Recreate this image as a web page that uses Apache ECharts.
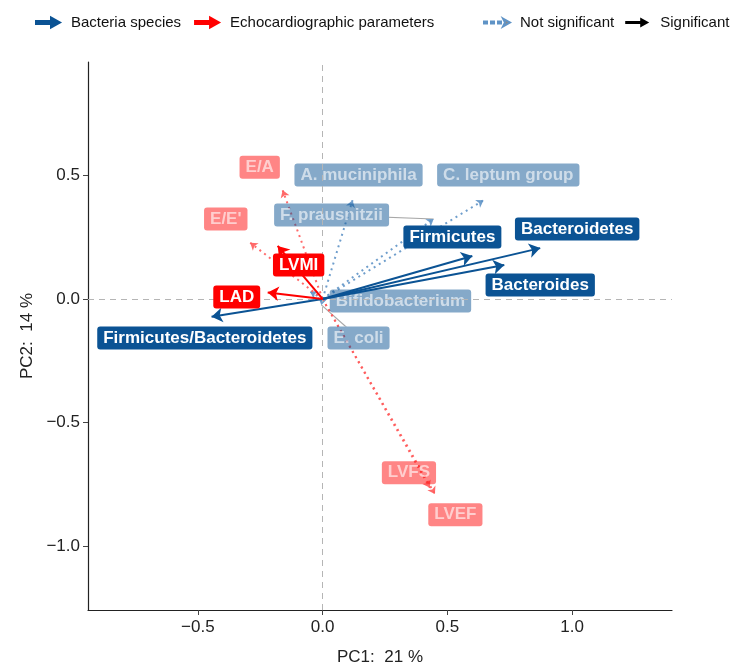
<!DOCTYPE html>
<html>
<head>
<meta charset="utf-8">
<script src="https://cdn.jsdelivr.net/npm/echarts@6/dist/echarts.min.js"></script>
<style>
  html, body { margin: 0; padding: 0; background: #fff; }
  #chart { width: 732px; height: 669px; }
</style>
</head>
<body>
<div id="chart"></div>
<script>
// PCA biplot loadings: PC1 / PC2 coordinates of each arrow tip,
// plus the coordinates where each text label is placed.

// Bacteria species – significant
const bactSigNames = ['Firmicutes', 'Bacteroidetes', 'Bacteroides', 'Firmicutes/Bacteroidetes'];
const bactSigPC1 = [0.600, 0.872, 0.728, -0.445];
const bactSigPC2 = [0.174, 0.206, 0.138, -0.072];
const bactSigLabelPC1 = [0.520, 1.020, 0.872, -0.472];
const bactSigLabelPC2 = [0.251, 0.283, 0.057, -0.158];

// Bacteria species – not significant
const bactNsNames = ['A. muciniphila', 'F. prausnitzii', 'C. leptum group', 'Bifidobacterium', 'E. coli'];
const bactNsPC1 = [0.120, 0.445, 0.645, -0.050, -0.005];
const bactNsPC2 = [0.400, 0.324, 0.400, 0.030, -0.024];
const bactNsLabelPC1 = [0.144, 0.036, 0.744, 0.312, 0.144];
const bactNsLabelPC2 = [0.502, 0.340, 0.502, -0.008, -0.158];

// Echocardiographic parameters – significant
const echoSigNames = ['LAD', 'LVMI'];
const echoSigPC1 = [-0.220, -0.180];
const echoSigPC2 = [0.026, 0.215];
const echoSigLabelPC1 = [-0.344, -0.096];
const echoSigLabelPC2 = [0.008, 0.138];

// Echocardiographic parameters – not significant
const echoNsNames = ['E/A', "E/E'", 'LVFS', 'LVEF'];
const echoNsPC1 = [-0.160, -0.290, 0.430, 0.450];
const echoNsPC2 = [0.440, 0.228, -0.765, -0.790];
const echoNsLabelPC1 = [-0.252, -0.388, 0.346, 0.532];
const echoNsLabelPC2 = [0.534, 0.324, -0.704, -0.874];

// Labels that are joined to their arrow tip by a leader segment
const leaderNames = ['F. prausnitzii', 'E. coli'];

// Axis ticks
const xTicks = [-0.5, 0.0, 0.5, 1.0];
const yTicks = [-1.0, -0.5, 0.0, 0.5];

const FONT = '"Liberation Sans", Arial, sans-serif';
const BLUE = '#0b5394';
const RED = '#ff0000';

function arrows(pc1, pc2) {
  return pc1.map((x, i) => ({ coords: [[0, 0], [x, pc2[i]]] }));
}
function labelPoints(names, lx, ly) {
  return names.map((n, i) => ({ name: n, value: [lx[i], ly[i]] }));
}
function fmt(v) {
  return (v < 0 ? '\u2212' : '') + Math.abs(v).toFixed(1);
}

// Leader segments: from label anchor to arrow tip
const allNames = bactNsNames.concat(bactSigNames, echoSigNames, echoNsNames);
const allPC1 = bactNsPC1.concat(bactSigPC1, echoSigPC1, echoNsPC1);
const allPC2 = bactNsPC2.concat(bactSigPC2, echoSigPC2, echoNsPC2);
const allLX = bactNsLabelPC1.concat(bactSigLabelPC1, echoSigLabelPC1, echoNsLabelPC1);
const allLY = bactNsLabelPC2.concat(bactSigLabelPC2, echoSigLabelPC2, echoNsLabelPC2);
const leaderIdx = leaderNames.map(n => allNames.indexOf(n));
const leaders = leaderIdx.map(i => ({ coords: [[allLX[i], allLY[i]], [allPC1[i], allPC2[i]]] }));

function labelSeries(names, lx, ly, bg, fg, z) {
  return {
    type: 'scatter',
    silent: true,
    z: z,
    symbolSize: 0,
    itemStyle: { opacity: 1 },
    data: labelPoints(names, lx, ly),
    label: {
      show: true,
      position: 'inside',
      formatter: '{b}',
      fontFamily: FONT,
      fontWeight: 'bold',
      fontSize: 17,
      lineHeight: 18,
      color: fg,
      backgroundColor: bg,
      borderRadius: 3,
      padding: [3, 6, 2, 6]
    },
    labelLayout: { hideOverlap: false }
  };
}

const chart = echarts.init(document.getElementById('chart'), null, { renderer: 'canvas' });

const arrowIcon = 'path://M0,3.5h15v-3.5l9,5l-9,5v-3.5h-15z';
const dottedIcon = 'path://M0,4h3v2h-3z M7,4h3v2h-3z M14,4h3v2h-3z M19,1l7,4l-7,4l2,-4z';

chart.setOption({
  animation: false,
  backgroundColor: '#fff',
  legend: [
    {
      left: 30, top: 10,
      itemWidth: 24, itemHeight: 10, itemGap: 13,
      selectedMode: false,
      textStyle: { fontFamily: FONT, fontSize: 15, color: '#111', padding: [0, 0, 0, 6] },
      data: [
        { name: 'Bacteria species', icon: arrowIcon, itemStyle: { color: BLUE } },
        { name: 'Echocardiographic parameters', icon: arrowIcon, itemStyle: { color: RED } }
      ]
    },
    {
      left: 478, top: 10, width: 260,
      itemWidth: 26, itemHeight: 10, itemGap: 11,
      selectedMode: false,
      textStyle: { fontFamily: FONT, fontSize: 15, color: '#111', padding: [0, 0, 0, 5] },
      data: [
        { name: 'Not significant', icon: dottedIcon, itemStyle: { color: '#8a8a8a' } },
        { name: 'Significant', icon: arrowIcon, itemStyle: { color: '#000' } }
      ]
    }
  ],
  grid: { left: 88, right: 60, top: 62, bottom: 59, containLabel: false, outerBoundsMode: 'none' },
  xAxis: {
    type: 'value',
    min: -0.94, max: 1.4,
    name: 'PC1:  21 %',
    nameLocation: 'middle',
    nameGap: 39,
    nameTextStyle: { fontFamily: FONT, fontSize: 17, color: '#222' },
    axisLine: { show: true, onZero: false, lineStyle: { color: '#222', width: 1.2 } },
    axisTick: { show: true, length: 5, customValues: xTicks, lineStyle: { color: '#444' } },
    axisLabel: { customValues: xTicks, formatter: fmt, fontFamily: FONT, fontSize: 17, color: '#222', margin: 9 },
    splitLine: { show: false }
  },
  yAxis: {
    type: 'value',
    min: -1.26, max: 0.96,
    name: 'PC2:  14 %',
    nameLocation: 'middle',
    nameGap: 51,
    nameRotate: 90,
    nameTextStyle: { fontFamily: FONT, fontSize: 17, color: '#222' },
    axisLine: { show: true, onZero: false, lineStyle: { color: '#222', width: 1.2 } },
    axisTick: { show: true, length: 5, customValues: yTicks, lineStyle: { color: '#444' } },
    axisLabel: { customValues: yTicks, formatter: fmt, fontFamily: FONT, fontSize: 17, color: '#222', margin: 8 },
    splitLine: { show: false }
  },
  series: [
    // dashed reference lines through the origin
    {
      type: 'line', data: [], silent: true, z: 1,
      markLine: {
        silent: true, symbol: 'none', animation: false,
        label: { show: false },
        lineStyle: { color: '#b5b5b5', type: [6, 5], width: 1 },
        data: [{ xAxis: 0 }, { yAxis: 0 }]
      }
    },
    // leader segments
    {
      type: 'lines', coordinateSystem: 'cartesian2d', silent: true, z: 2,
      symbol: 'none',
      lineStyle: { color: '#a8a8a8', width: 1.2, opacity: 1 },
      data: leaders
    },
    // opaque backing under labels that carry a leader, so the segment starts at the box edge
    labelSeries(leaderIdx.map(i => allNames[i]), leaderIdx.map(i => allLX[i]), leaderIdx.map(i => allLY[i]),
      '#ffffff', 'rgba(255,255,255,0)', 2.5),
    // not significant arrows (dotted)
    {
      name: 'Not significant',
      type: 'lines', coordinateSystem: 'cartesian2d', silent: true, z: 3,
      symbol: ['none', 'arrow'], symbolSize: 7,
      lineStyle: { color: '#5f93c6', width: 2, type: [2, 4], opacity: 0.9 },
      data: arrows(bactNsPC1, bactNsPC2)
    },
    {
      name: 'Not significant',
      type: 'lines', coordinateSystem: 'cartesian2d', silent: true, z: 3,
      symbol: ['none', 'arrow'], symbolSize: 7,
      lineStyle: { color: '#ff5a5a', width: 2, type: [2, 4], opacity: 0.9 },
      data: arrows(echoNsPC1, echoNsPC2)
    },
    // not significant labels (faded)
    labelSeries(bactNsNames, bactNsLabelPC1, bactNsLabelPC2, 'rgba(11,83,148,0.5)', 'rgba(255,255,255,0.6)', 4),
    labelSeries(echoNsNames, echoNsLabelPC1, echoNsLabelPC2, 'rgba(255,0,0,0.48)', 'rgba(255,255,255,0.6)', 4),
    // significant arrows (solid)
    {
      name: 'Bacteria species',
      type: 'lines', coordinateSystem: 'cartesian2d', silent: true, z: 5,
      symbol: ['none', 'arrow'], symbolSize: 11,
      lineStyle: { color: BLUE, width: 2, type: 'solid', opacity: 1 },
      data: arrows(bactSigPC1, bactSigPC2)
    },
    {
      name: 'Echocardiographic parameters',
      type: 'lines', coordinateSystem: 'cartesian2d', silent: true, z: 5,
      symbol: ['none', 'arrow'], symbolSize: 11,
      lineStyle: { color: RED, width: 2, type: 'solid', opacity: 1 },
      data: arrows(echoSigPC1, echoSigPC2)
    },
    { name: 'Significant', type: 'lines', coordinateSystem: 'cartesian2d', data: [], lineStyle: { color: '#000' } },
    // significant labels
    labelSeries(bactSigNames, bactSigLabelPC1, bactSigLabelPC2, BLUE, '#fff', 6),
    labelSeries(echoSigNames, echoSigLabelPC1, echoSigLabelPC2, RED, '#fff', 6)
  ]
});
</script>
</body>
</html>
